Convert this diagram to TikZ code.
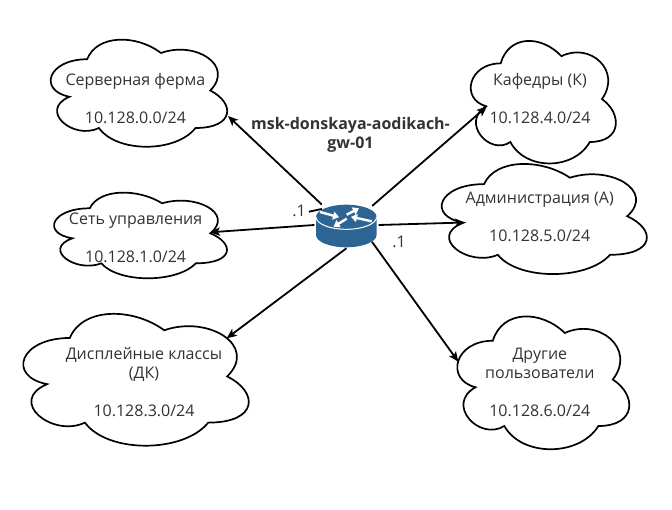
\documentclass[tikz,border=0pt]{standalone}
\usepackage{fontspec}
\setmainfont{Open Sans}
\usetikzlibrary{arrows.meta,shapes.geometric}
\definecolor{ink}{HTML}{333333}
\definecolor{routerblue}{HTML}{2C6593}
\tikzset{
  cloudline/.style={draw=black,line width=1.7pt,fill=white},
  label/.style={inner sep=0pt,text=ink,font=\fontsize{16}{19}\selectfont,align=center},
  boldlabel/.style={label,font=\fontsize{16}{19}\selectfont\bfseries},
  link/.style={draw=black,line width=1.8pt,-{Stealth[length=10pt,width=8.5pt,inset=2.5pt]}},
  plainlink/.style={draw=black,line width=1.8pt},
  whitearrow/.style={draw=white,line width=2.4pt,-{Triangle[length=6pt,width=8pt]}},
  hub/.style={shape=ellipse,minimum width=64pt,minimum height=46pt,inner sep=0pt},
}
\newcommand{\cloudpath}[4]{%
  \begin{scope}[shift={(#1,#2)},x=#3pt,y=-#4pt]
    \draw[cloudline] (0.25,0.25)
      .. controls (0.05,0.25) and (0,0.5) .. (0.16,0.55)
      .. controls (0,0.66) and (0.18,0.9) .. (0.31,0.8)
      .. controls (0.4,1) and (0.7,1) .. (0.8,0.8)
      .. controls (1,0.8) and (1,0.6) .. (0.875,0.5)
      .. controls (1,0.3) and (0.8,0.1) .. (0.625,0.2)
      .. controls (0.5,0.05) and (0.3,0.05) .. (0.25,0.25) -- cycle;
  \end{scope}}
\begin{document}
\begin{tikzpicture}[x=1pt,y=-1pt]
\useasboundingbox (0,0) rectangle (672,510);
\fill[white] (0,0) rectangle (672,510);
% clouds
\cloudpath{37.9}{28}{197}{125}
\cloudpath{460.2}{27.6}{162}{143}
\cloudpath{426.8}{152}{229}{128.5}
\cloudpath{41.5}{183.3}{193}{100}
\cloudpath{6.9}{299.5}{251.7}{153.9}
\cloudpath{444.8}{302}{192}{155}
\node[label] (server) at (135.4,99) {Серверная ферма\\ \\10.128.0.0/24};
\node[label] (chairs) at (540,99) {Кафедры (К)\\ \\10.128.4.0/24};
\node[label] (admin) at (539.7,217) {Администрация (А)\\ \\10.128.5.0/24};
\node[label] (mgmt) at (135.6,238.3) {Сеть управления\\ \\10.128.1.0/24};
\node[label] (display) at (144,382) {Дисплейные классы\\(ДК)\\ \\10.128.3.0/24};
\node[label] (others) at (539.8,382) {Другие\\пользователи\\ \\10.128.6.0/24};
% router
\node[hub] (router) at (346.5,225) {};
\coordinate (serverport) at (228,116);
\coordinate (chairsport) at (486.7,106.7);
\coordinate (adminport) at (465,222.5);
\coordinate (mgmtport) at (210,232.3);
\coordinate (displayport) at (226.7,338.3);
\coordinate (othersport) at (458.3,361.7);
\draw[link,shorten <=4.5pt] (router.141.7) -- (serverport);
\draw[link,shorten <=4pt] (router.36.5) -- (chairsport);
\draw[link] (router.0) -- (adminport);
\draw[link] (router.180) -- (mgmtport);
\draw[link] (router.-90) -- (displayport);
\draw[link,shorten <=2pt] (router.-32.5) -- (othersport);
% router icon
\fill[routerblue] (316,217) .. controls (316,210.2) and (329.6,204.7) .. (346.3,204.7)
  .. controls (363,204.7) and (376.6,210.2) .. (376.6,217) -- (376.6,235)
  .. controls (376.6,241.8) and (363,247.3) .. (346.3,247.3)
  .. controls (329.6,247.3) and (316,241.8) .. (316,235) -- cycle;
\draw[white,line width=1pt] (316,217) .. controls (316,223.8) and (329.6,229.3) .. (346.3,229.3)
  .. controls (363,229.3) and (376.6,223.8) .. (376.6,217);
\draw[whitearrow] (320,212) -- (339,217.2);
\draw[whitearrow] (346.7,214.7) -- (359,208.3);
\draw[whitearrow] (371.7,221.3) -- (351,216.8);
\draw[whitearrow] (346.7,218.7) -- (333.5,226.8);
% labels
\node[boldlabel] (hostname) at (350.5,135) {msk-donskaya-aodikach-\\gw-01};
\node[label] (dotone) at (299,210.5) {.1};
\node[label] (dottwo) at (399,242) {.1};
\draw[plainlink,shorten <=3pt,shorten >=2pt] (dotone.-15) -- (router.144);
\end{tikzpicture}
\end{document}
